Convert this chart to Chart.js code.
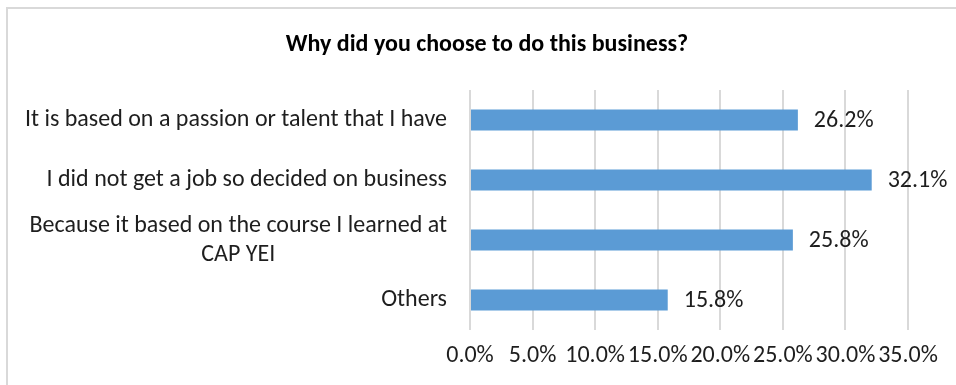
<!DOCTYPE html>
<html>
<head>
<meta charset="utf-8">
<script src="https://cdn.jsdelivr.net/npm/chart.js@4/dist/chart.umd.min.js"></script>
<style>
  html, body { margin: 0; padding: 0; background: #fff; }
  #wrap { position: relative; width: 956px; height: 385px; overflow: hidden; }
  #frame {
    position: absolute; left: 6px; top: 7px; width: 980px; height: 400px;
    border-left: 2px solid #d9d9d9; border-top: 2px solid #d9d9d9;
  }
  canvas { position: absolute; left: 0; top: 0; }
</style>
</head>
<body>
<div id="wrap">
  <div id="frame"></div>
  <canvas id="chart" width="956" height="385"></canvas>
</div>
<script>
const FONT = 'Calibri, Carlito, Lato, sans-serif';

const chartTitle = 'Why did you choose to do this business?';
const categories = [
    'It is based on a passion or talent that I have',
    'I did not get a job so decided on business',
    ['Because it based on the course I learned at', 'CAP YEI'],
    'Others'
];
const shares = [26.2, 32.1, 25.8, 15.8];
const xTicks = [0, 5, 10, 15, 20, 25, 30, 35];

const barColor = '#5b9bd5';
const textColor = '#1e1e1e';

// title + category names on the left (right-aligned block, multi-line labels centred inside it)
const categoryLabels = {
    id: 'categoryLabels',
    afterDraw(chart) {
        const ctx = chart.ctx;
        const y = chart.scales.y;
        const right = 447;
        const lineH = 29;
        ctx.save();
        ctx.textBaseline = 'middle';
        ctx.textAlign = 'center';

        ctx.font = 'bold 24px ' + FONT;
        ctx.fillStyle = '#000';
        ctx.fillText(chartTitle, 487, 45);

        ctx.font = '24px ' + FONT;
        ctx.fillStyle = textColor;
        categories.forEach((label, i) => {
            const lines = Array.isArray(label) ? label : [label];
            const w = Math.max(...lines.map(l => ctx.measureText(l).width));
            const cy = y.getPixelForValue(i);
            const top = cy - (lines.length - 1) * lineH / 2;
            lines.forEach((l, k) => ctx.fillText(l, right - w / 2, top + k * lineH));
        });
        ctx.restore();
    }
};

// percentage labels at the end of each bar
const valueLabels = {
    id: 'valueLabels',
    afterDatasetsDraw(chart) {
        const ctx = chart.ctx;
        const meta = chart.getDatasetMeta(0);
        ctx.save();
        ctx.font = '24px ' + FONT;
        ctx.fillStyle = textColor;
        ctx.textBaseline = 'middle';
        ctx.textAlign = 'left';
        meta.data.forEach((bar, i) => {
            ctx.fillText(shares[i].toFixed(1) + '%', bar.x + 16, bar.y + 1);
        });
        ctx.restore();
    }
};

new Chart(document.getElementById('chart'), {
    type: 'bar',
    data: {
        labels: categories,
        datasets: [{
            data: shares,
            backgroundColor: barColor,
            borderWidth: 0,
            barPercentage: 0.7,
            categoryPercentage: 0.5
        }]
    },
    options: {
        indexAxis: 'y',
        responsive: false,
        animation: false,
        layout: { padding: { left: 0, right: 48, top: 90, bottom: 0 } },
        plugins: {
            legend: { display: false },
            tooltip: { enabled: false },
            title: { display: false }
        },
        scales: {
            y: {
                grid: { display: false },
                border: { display: false },
                ticks: { display: false },
                afterFit(scale) { scale.width = 470; }
            },
            x: {
                min: 0,
                max: 35,
                afterBuildTicks(scale) {
                    scale.ticks = xTicks.map(v => ({ value: v }));
                },
                afterFit(scale) { scale.height = 55; },
                grid: { color: '#d9d9d9', lineWidth: 2, drawTicks: false },
                border: { display: false },
                ticks: {
                    color: textColor,
                    padding: 12,
                    autoSkip: false,
                    minRotation: 0,
                    maxRotation: 0,
                    font: { family: FONT, size: 24 },
                    callback: v => v.toFixed(1) + '%'
                }
            }
        }
    },
    plugins: [categoryLabels, valueLabels]
});
</script>
</body>
</html>
